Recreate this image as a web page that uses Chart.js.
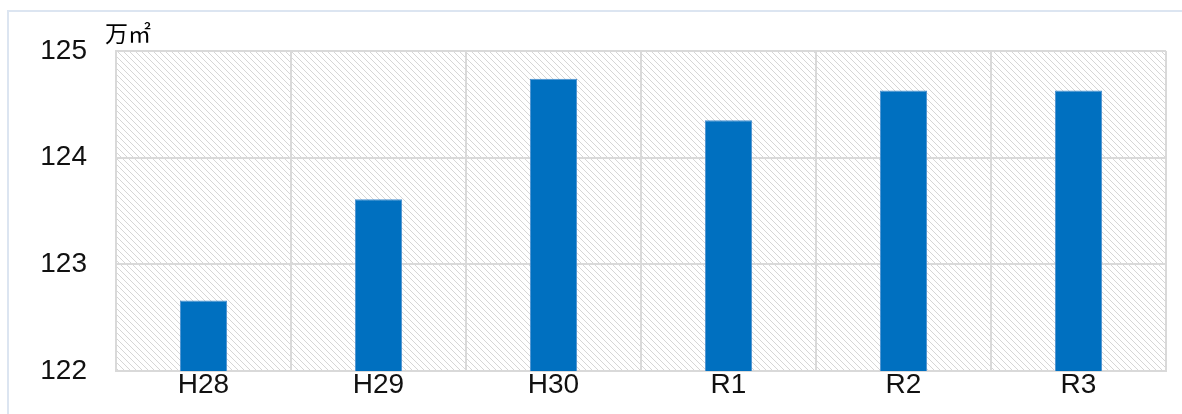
<!DOCTYPE html>
<html>
<head>
<meta charset="utf-8">
<script src="https://cdn.jsdelivr.net/npm/chart.js@4"></script>
<style>
  html, body { margin: 0; padding: 0; background: #fff; }
  #wrap { position: relative; width: 1182px; height: 414px; }
</style>
</head>
<body>
<div id="wrap"><canvas id="areaChart"></canvas></div>
<script>
// fiscal years and area (万㎡)
const years = ['H28', 'H29', 'H30', 'R1', 'R2', 'R3'];
const areas = [122.66, 123.61, 124.74, 124.35, 124.63, 124.63];
const yTicks = [122, 123, 124, 125];
const unitLabel = '万㎡';

const labelFont = { family: "'Liberation Sans', Arial, sans-serif", size: 28, lineHeight: 1 };
const plotBottom = 372; // where the x axis line sits in the original

// diagonal hatch for the plot background
function makeHatch() {
	const c = document.createElement('canvas');
	c.width = 6;
	c.height = 6;
	const g = c.getContext('2d');
	g.fillStyle = '#ffffff';
	g.fillRect(0, 0, 6, 6);
	g.strokeStyle = '#d6d6d6';
	g.lineWidth = 1;
	g.beginPath();
	g.moveTo(-1, -1); g.lineTo(7, 7);
	g.moveTo(-1, 5); g.lineTo(1, 7);
	g.moveTo(5, -1); g.lineTo(7, 1);
	g.stroke();
	return g.createPattern(c, 'repeat');
}

const decor = {
	id: 'decor',
	beforeDraw(chart) {
		const { ctx, chartArea: a } = chart;
		ctx.save();
		// outer frame (top and left edges visible)
		ctx.strokeStyle = '#dce5f1';
		ctx.lineWidth = 2;
		ctx.beginPath();
		ctx.moveTo(8, 414);
		ctx.lineTo(8, 11);
		ctx.lineTo(1182, 11);
		ctx.stroke();
		ctx.fillStyle = makeHatch();
		ctx.fillRect(a.left, a.top, a.right - a.left, a.bottom - a.top);
		ctx.restore();
	},
	afterDraw(chart) {
		const { ctx } = chart;
		ctx.save();
		ctx.fillStyle = '#000';
		ctx.font = "23px 'Noto Sans CJK JP', sans-serif";
		ctx.textBaseline = 'alphabetic';
		ctx.fillText(unitLabel, 105, 42);
		ctx.restore();
	}
};

const ctx = document.getElementById('areaChart').getContext('2d');
const areaChart = new Chart(ctx, {
	type: 'bar',
	data: {
		labels: years,
		datasets: [{
			data: areas,
			backgroundColor: '#0070c0',
			borderColor: '#4a90d0',
			borderWidth: 1,
			barPercentage: 0.27,
			categoryPercentage: 1
		}]
	},
	options: {
		responsive: true,
		maintainAspectRatio: false,
		animation: false,
		layout: { padding: { top: 51, right: 16, left: 0, bottom: 0 } },
		plugins: { legend: { display: false }, tooltip: { enabled: false } },
		scales: {
			x: {
				grid: { color: '#d9d9d9', lineWidth: 2, drawTicks: false, tickLength: 0, offset: true },
				border: { color: '#d9d9d9', width: 2 },
				ticks: { color: '#111', font: labelFont, padding: 14, maxRotation: 0 }
			},
			y: {
				min: 122,
				max: 125,
				afterBuildTicks(s) { s.ticks = yTicks.map(v => ({ value: v })); },
				grid: { color: '#d9d9d9', lineWidth: 2, drawTicks: false },
				border: { color: '#d9d9d9', width: 2 },
				ticks: { color: '#111', font: labelFont, padding: 29 },
				afterFit(s) { s.width = 116; }
			}
		}
	},
	plugins: [decor]
});

// the axis band height came out a few px off, so nudge the label padding until the plot ends at plotBottom
const gap = plotBottom - areaChart.chartArea.bottom;
if (Math.abs(gap) > 0.5) {
	areaChart.options.scales.x.ticks.padding -= gap;
	areaChart.update();
}
</script>
</body>
</html>
